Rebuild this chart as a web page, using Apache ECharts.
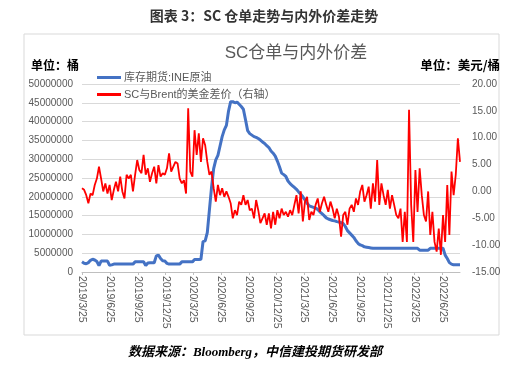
<!DOCTYPE html>
<html>
<head>
<meta charset="utf-8">
<script src="https://cdn.jsdelivr.net/npm/echarts@6/dist/echarts.min.js"></script>
<style>
html,body{margin:0;padding:0;background:#fff;}
#c{width:528px;height:371px;}
</style>
</head>
<body>
<div id="c"></div>
<script>
const weekDates = [
'2019-03-25','2019-04-01','2019-04-08','2019-04-15','2019-04-22','2019-04-29','2019-05-06','2019-05-13','2019-05-20','2019-05-27',
'2019-06-03','2019-06-10','2019-06-17','2019-06-24','2019-07-01','2019-07-08','2019-07-15','2019-07-22','2019-07-29','2019-08-05',
'2019-08-12','2019-08-19','2019-08-26','2019-09-02','2019-09-09','2019-09-16','2019-09-23','2019-09-30','2019-10-07','2019-10-14',
'2019-10-21','2019-10-28','2019-11-04','2019-11-11','2019-11-18','2019-11-25','2019-12-02','2019-12-09','2019-12-16','2019-12-23',
'2019-12-30','2020-01-06','2020-01-13','2020-01-20','2020-01-27','2020-02-03','2020-02-10','2020-02-17','2020-02-24','2020-03-02',
'2020-03-09','2020-03-16','2020-03-23','2020-03-30','2020-04-06','2020-04-13','2020-04-20','2020-04-27','2020-05-04','2020-05-11',
'2020-05-18','2020-05-25','2020-06-01','2020-06-08','2020-06-15','2020-06-22','2020-06-29','2020-07-06','2020-07-13','2020-07-20',
'2020-07-27','2020-08-03','2020-08-10','2020-08-17','2020-08-24','2020-08-31','2020-09-07','2020-09-14','2020-09-21','2020-09-28',
'2020-10-05','2020-10-12','2020-10-19','2020-10-26','2020-11-02','2020-11-09','2020-11-16','2020-11-23','2020-11-30','2020-12-07',
'2020-12-14','2020-12-21','2020-12-28','2021-01-04','2021-01-11','2021-01-18','2021-01-25','2021-02-01','2021-02-08','2021-02-15',
'2021-02-22','2021-03-01','2021-03-08','2021-03-15','2021-03-22','2021-03-29','2021-04-05','2021-04-12','2021-04-19','2021-04-26',
'2021-05-03','2021-05-10','2021-05-17','2021-05-24','2021-05-31','2021-06-07','2021-06-14','2021-06-21','2021-06-28','2021-07-05',
'2021-07-12','2021-07-19','2021-07-26','2021-08-02','2021-08-09','2021-08-16','2021-08-23','2021-08-30','2021-09-06','2021-09-13',
'2021-09-20','2021-09-27','2021-10-04','2021-10-11','2021-10-18','2021-10-25','2021-11-01','2021-11-08','2021-11-15','2021-11-22',
'2021-11-29','2021-12-06','2021-12-13','2021-12-20','2021-12-27','2022-01-03','2022-01-10','2022-01-17','2022-01-24','2022-01-31',
'2022-02-07','2022-02-14','2022-02-21','2022-02-28','2022-03-07','2022-03-14','2022-03-21','2022-03-28','2022-04-04','2022-04-11',
'2022-04-18','2022-04-25','2022-05-02','2022-05-09','2022-05-16','2022-05-23','2022-05-30','2022-06-06','2022-06-13','2022-06-20',
'2022-06-27','2022-07-04','2022-07-11','2022-07-18','2022-07-25','2022-08-01','2022-08-08','2022-08-15','2022-08-22'
];

// 库存期货:INE原油 (桶), millions
const stockMillions = [
2.7,2.3,2.2,2.5,3.1,3.4,3.2,2.8,1.7,2.9,
2.9,2.9,2.9,1.8,1.9,2.1,2.1,2.1,2.1,2.1,
2.1,2.1,2.1,2.1,2.1,2.7,2.7,2.7,2.7,2.7,
1.7,2.4,2.45,2.45,2.45,4.3,4.5,3.6,3.0,2.9,
2.3,2.1,2.1,2.1,2.1,2.1,2.1,2.7,2.7,2.7,
2.7,2.7,2.7,3.3,3.3,3.3,3.4,8.1,8.3,10.5,
16.5,22.5,27.5,29.8,31.0,33.5,36.0,37.8,39.0,42.8,
45.3,45.3,45.0,45.2,44.6,44.0,43.3,40.5,37.6,36.8,
36.4,36.0,35.8,35.5,35.1,34.6,34.2,33.6,33.1,32.2,
31.6,30.8,29.5,28.0,26.3,25.9,25.4,24.2,23.5,23.0,
22.5,22.0,21.3,20.7,20.0,19.2,18.3,17.6,17.4,17.2,
17.0,16.6,16.0,15.5,15.0,14.4,14.1,13.9,13.7,13.6,
13.4,13.3,13.1,12.9,12.1,11.0,10.4,9.8,9.2,8.3,
7.6,7.2,7.0,6.7,6.6,6.5,6.4,6.3,6.3,6.3,
6.3,6.3,6.3,6.3,6.3,6.3,6.3,6.3,6.3,6.3,
6.3,6.3,6.3,6.3,6.3,6.3,6.3,6.3,6.3,5.8,
5.8,5.8,5.8,5.8,6.3,6.3,6.3,6.3,6.3,6.3,
6.3,4.5,3.6,2.5,2.1,1.9,1.9,1.9,1.9
];

// SC与Brent的美金差价 (美元/桶)
const spreadValues = [
0.6,0.3,-0.7,-2.2,-0.4,-0.7,1.2,2.4,4.6,2.4,
0.0,1.5,-0.4,1.2,-1.6,0.3,1.8,0.0,2.75,0.0,
-1.3,3.1,2.4,3.1,0.0,3.1,5.85,4.0,3.4,6.8,
3.1,4.3,1.8,3.4,4.6,1.5,4.9,2.75,3.4,3.1,
4.3,7.1,3.7,4.6,5.5,5.2,2.4,1.5,2.1,-0.4,
15.5,3.7,2.75,11.4,6.8,10.8,5.5,9.9,8.6,5.5,
3.1,3.7,0.6,-1.9,1.2,-0.7,0.6,-1.0,0.0,-1.0,
-2.2,-5.0,-3.5,-4.4,-1.9,-2.5,-0.7,-2.5,-1.6,-3.5,
-3.2,-5.0,-1.6,-3.5,-5.9,-5.0,-4.1,-6.2,-4.1,-6.9,
-3.8,-6.2,-3.5,-5.0,-3.2,-4.4,-3.8,-4.7,-3.5,-4.4,
-2.5,-0.7,-4.1,0.0,-5.6,-1.9,-1.0,-5.3,-3.8,-4.4,
-2.5,-1.3,-3.8,-2.2,-1.0,-2.5,-3.8,-1.9,-3.2,-5.0,
-3.2,-4.7,-8.4,-4.4,-3.8,-6.2,-3.2,-2.5,-3.8,-1.3,
-2.5,0.0,1.2,-1.9,-0.7,0.9,-3.2,1.5,-1.9,5.85,
-2.5,1.5,-0.7,-2.5,0.3,-3.2,-0.7,-2.5,-4.4,-5.0,
-3.2,-9.4,-3.8,-9.4,15.2,-2.5,-9.4,4.0,-3.8,4.3,
-0.7,-4.4,-5.6,0.0,-8.1,-3.8,-9.4,-11.2,-6.9,-11.8,
-4.4,-9.4,1.2,-8.1,3.7,-0.7,3.1,9.9,5.5
];

const xTickLabels = ['2019/3/25','2019/6/25','2019/9/25','2019/12/25','2020/3/25','2020/6/25','2020/9/25','2020/12/25',
'2021/3/25','2021/6/25','2021/9/25','2021/12/25','2022/3/25','2022/6/25'];

const seriesNames = ['库存期货:INE原油','SC与Brent的美金差价（右轴）'];

function parseD(s){const p=s.split(/[-\/]/).map(Number);return Date.UTC(p[0],p[1]-1,p[2]);}
const tickTimes = xTickLabels.map(parseD);
function fmtD(v){
  let best=0,bd=Infinity;
  tickTimes.forEach((t,i)=>{const d=Math.abs(t-v);if(d<bd){bd=d;best=i;}});
  return xTickLabels[best];
}

const chart = echarts.init(document.getElementById('c'), null, {renderer:'canvas'});
const gray = '#595959';
const cjk = '"Liberation Sans","Noto Sans CJK SC",sans-serif';

chart.setOption({
  animation:false,
  backgroundColor:'#ffffff',
  textStyle:{fontFamily:cjk},
  grid:{left:82,right:68,top:84,bottom:99,containLabel:false},
  legend:{
    orient:'vertical',left:92,top:67,itemWidth:24,itemHeight:3,itemGap:6,icon:'rect',
    textStyle:{fontSize:11,color:gray,fontFamily:cjk,padding:[0,0,0,-2]},
    data:seriesNames
  },
  xAxis:{
    type:'value',
    min:parseD(weekDates[0]),
    max:parseD(weekDates[weekDates.length-1]),
    axisLine:{onZero:false,lineStyle:{color:'#bfbfbf',width:1}},
    axisTick:{show:true,length:3,customValues:tickTimes,lineStyle:{color:'#bfbfbf'}},
    splitLine:{show:false},
    axisLabel:{
      customValues:tickTimes,rotate:-90,fontSize:10.5,color:gray,margin:4,
      formatter:function(v){return fmtD(v);}
    }
  },
  yAxis:[{
    type:'value',min:0,max:50000000,interval:5000000,
    axisLine:{show:false},axisTick:{show:false},
    splitLine:{lineStyle:{color:'#d9d9d9',width:1}},
    axisLabel:{fontSize:10,color:gray,margin:9,formatter:function(v){return String(Math.round(v));}}
  },{
    type:'value',min:-15,max:20,interval:5,
    axisLine:{show:false},axisTick:{show:false},
    splitLine:{show:false},
    axisLabel:{fontSize:10,color:gray,margin:12,formatter:function(v){return v.toFixed(2);}}
  }],
  series:[{
    name:seriesNames[0],type:'line',yAxisIndex:0,symbol:'none',
    lineStyle:{color:'#4472C4',width:3},itemStyle:{color:'#4472C4'},
    data:weekDates.map((d,i)=>[parseD(d),stockMillions[i]*1000000])
  },{
    name:seriesNames[1],type:'line',yAxisIndex:1,symbol:'none',
    lineStyle:{color:'#FF0000',width:1.8},itemStyle:{color:'#FF0000'},
    data:weekDates.map((d,i)=>[parseD(d),spreadValues[i]])
  }],
  graphic:[
    {type:'rect',shape:{x:24,y:34,width:475,height:301},style:{fill:'none',stroke:'#d9d9d9',lineWidth:1},silent:true},
    {type:'text',x:264,y:16,style:{text:'图表 3：SC 仓单走势与内外价差走势',fontSize:14,fontWeight:'bold',fill:'#333',
      fontFamily:'"Noto Sans CJK SC",sans-serif',align:'center',verticalAlign:'middle'}},
    {type:'text',x:296,y:53,style:{text:'SC仓单与内外价差',fontSize:17,fill:gray,fontFamily:cjk,align:'center',verticalAlign:'middle'}},
    {type:'text',x:31,y:65,style:{text:'单位：桶',fontSize:12,fontWeight:'bold',fill:'#000',fontFamily:'"Noto Sans CJK SC",sans-serif',align:'left',verticalAlign:'middle'}},
    {type:'text',x:500,y:65,style:{text:'单位：美元/桶',fontSize:12.5,fontWeight:'bold',fill:'#000',fontFamily:'"Noto Sans CJK SC",sans-serif',align:'right',verticalAlign:'middle'}},
    {type:'text',x:255,y:353,style:{text:'数据来源：Bloomberg，中信建投期货研发部',fontSize:13,fontWeight:'bold',fontStyle:'italic',fill:'#000',
      fontFamily:'"Liberation Serif","Noto Sans CJK SC",serif',align:'center',verticalAlign:'middle'}}
  ]
});
</script>
</body>
</html>
